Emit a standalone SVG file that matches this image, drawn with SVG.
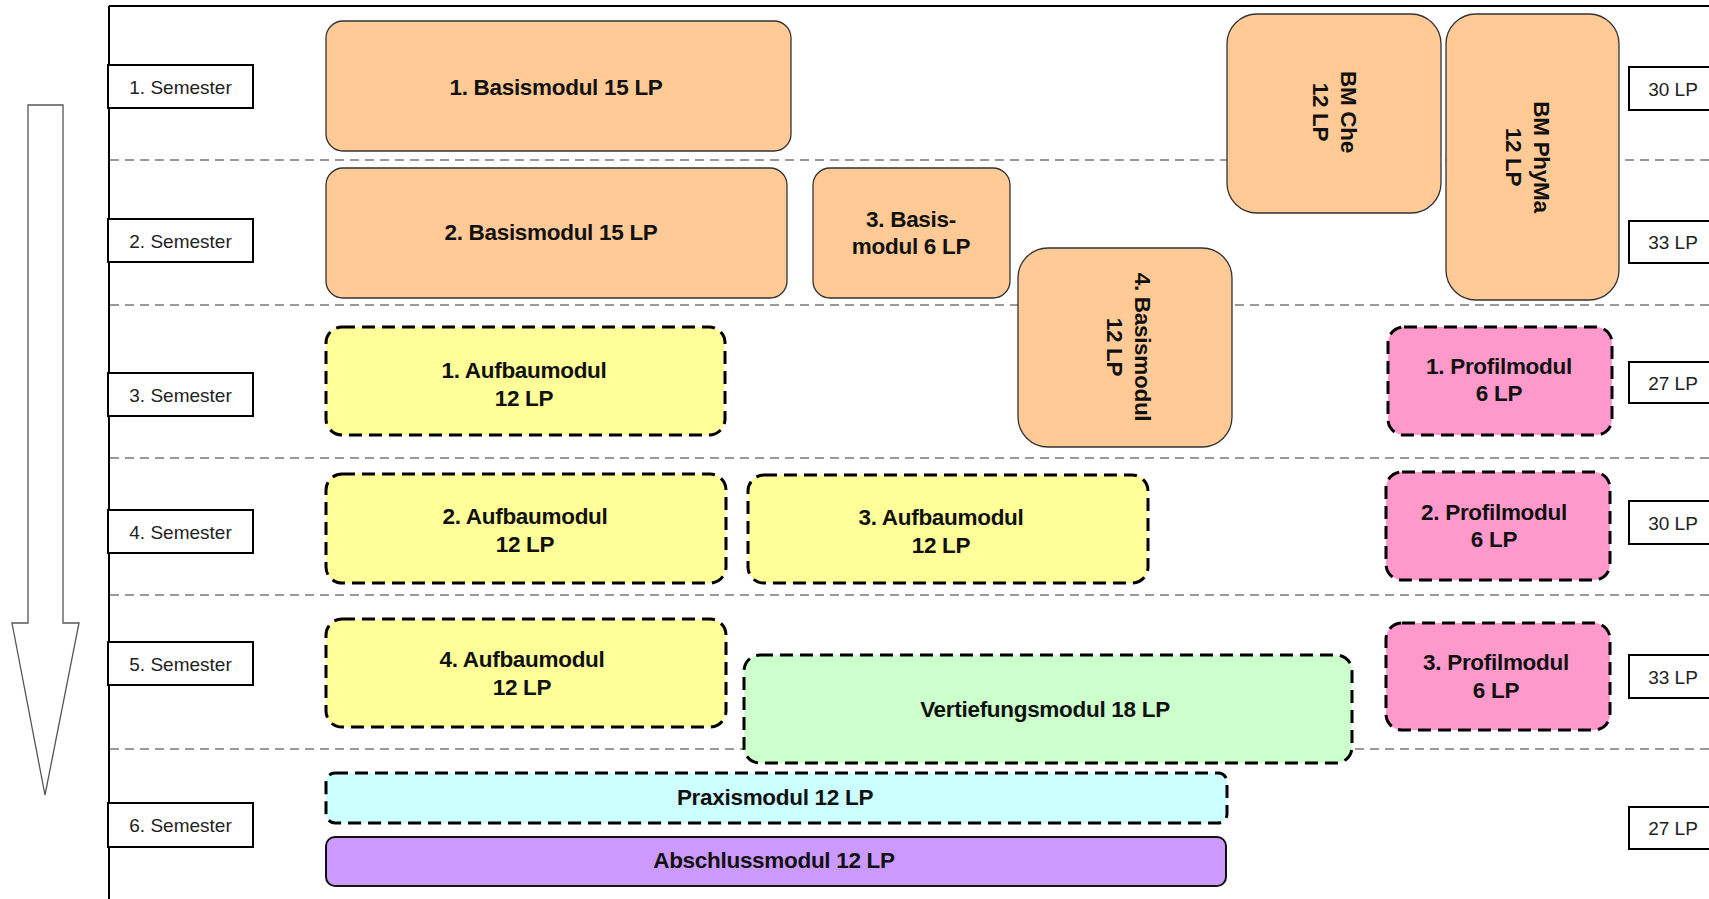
<svg xmlns="http://www.w3.org/2000/svg" width="1709" height="899" viewBox="0 0 1709 899">
<style>
.grid{stroke:#999;stroke-width:2;stroke-dasharray:9 6;fill:none}
.frame{stroke:#000;stroke-width:2;fill:none}
.lab{fill:#fff;stroke:#000;stroke-width:2}
.lt{font-family:"Liberation Sans",Arial,sans-serif;font-size:19px;fill:#222;text-anchor:middle;dominant-baseline:central}
.mt{font-family:"Liberation Sans",Arial,sans-serif;font-size:22.5px;font-weight:bold;fill:#111;text-anchor:middle;dominant-baseline:central;letter-spacing:-0.3px}
.solid{stroke:#333;stroke-width:1.3}
.dash{stroke:#000;stroke-width:3;stroke-dasharray:13 7}
.orange{fill:#FFCA96}
.yellow{fill:#FFFF99}
.pink{fill:#FF99CC}
.green{fill:#CCFFCC}
.cyan{fill:#CCFFFF}
.purple{fill:#CC99FF}
</style>
<rect width="1709" height="899" fill="#fff"/>
<g id="frame">
<line class="frame" x1="109" y1="6" x2="1709" y2="6"/>
<line class="frame" x1="109" y1="6" x2="109" y2="899"/>
</g>
<g id="grid-lines">
<line class="grid" x1="110" y1="160" x2="1709" y2="160"/>
<line class="grid" x1="110" y1="305" x2="1709" y2="305"/>
<line class="grid" x1="110" y1="458" x2="1709" y2="458"/>
<line class="grid" x1="110" y1="595" x2="1709" y2="595"/>
<line class="grid" x1="110" y1="749" x2="1709" y2="749"/>
</g>
<g id="time-arrow">
<path d="M28,105 H63 V623 H79 L45,795 L12,623 H28 Z" fill="#fff" stroke="#555" stroke-width="1.3"/>
</g>
<g id="semester-1"><rect class="lab" x="108" y="65" width="145" height="43"/><text class="lt" x="180.5" y="87">1. Semester</text></g>
<g id="semester-2"><rect class="lab" x="108" y="219" width="145" height="43"/><text class="lt" x="180.5" y="241">2. Semester</text></g>
<g id="semester-3"><rect class="lab" x="108" y="373" width="145" height="43"/><text class="lt" x="180.5" y="395">3. Semester</text></g>
<g id="semester-4"><rect class="lab" x="108" y="510" width="145" height="43"/><text class="lt" x="180.5" y="532">4. Semester</text></g>
<g id="semester-5"><rect class="lab" x="108" y="642" width="145" height="43"/><text class="lt" x="180.5" y="664">5. Semester</text></g>
<g id="semester-6"><rect class="lab" x="108" y="803" width="145" height="44"/><text class="lt" x="180.5" y="825">6. Semester</text></g>
<g id="lp-1"><rect class="lab" x="1629" y="67" width="100" height="43"/><text class="lt" x="1673" y="89">30 LP</text></g>
<g id="lp-2"><rect class="lab" x="1629" y="221" width="100" height="42"/><text class="lt" x="1673" y="242">33 LP</text></g>
<g id="lp-3"><rect class="lab" x="1629" y="362" width="100" height="41"/><text class="lt" x="1673" y="383">27 LP</text></g>
<g id="lp-4"><rect class="lab" x="1629" y="501" width="100" height="43"/><text class="lt" x="1673" y="523">30 LP</text></g>
<g id="lp-5"><rect class="lab" x="1629" y="655" width="100" height="43"/><text class="lt" x="1673" y="677">33 LP</text></g>
<g id="lp-6"><rect class="lab" x="1629" y="807" width="100" height="42"/><text class="lt" x="1673" y="828">27 LP</text></g>
<g id="basismodul-1"><rect class="orange solid" x="326" y="21" width="465" height="130" rx="17"/><text class="mt" x="556" y="87">1. Basismodul 15 LP</text></g>
<g id="basismodul-2"><rect class="orange solid" x="326" y="168" width="461" height="130" rx="17"/><text class="mt" x="551" y="232">2. Basismodul 15 LP</text></g>
<g id="basismodul-3"><rect class="orange solid" x="813" y="168" width="197" height="130" rx="17"/><text class="mt" x="911" y="219">3. Basis-</text><text class="mt" x="911" y="246">modul 6 LP</text></g>
<g id="bm-che"><rect class="orange solid" x="1227" y="14" width="214" height="199" rx="30"/><g transform="translate(1334,112) rotate(90)"><text class="mt" x="0" y="-14">BM Che</text><text class="mt" x="0" y="14">12 LP</text></g></g>
<g id="bm-phyma"><rect class="orange solid" x="1446" y="14" width="173" height="286" rx="30"/><g transform="translate(1527,157) rotate(90)"><text class="mt" x="0" y="-14">BM PhyMa</text><text class="mt" x="0" y="14">12 LP</text></g></g>
<g id="basismodul-4"><rect class="orange solid" x="1018" y="248" width="214" height="199" rx="30"/><g transform="translate(1128,347) rotate(90)"><text class="mt" x="0" y="-14">4. Basismodul</text><text class="mt" x="0" y="14">12 LP</text></g></g>
<g id="aufbaumodul-1"><rect class="yellow dash" x="326" y="327" width="399" height="108" rx="16"/><text class="mt" x="524" y="370">1. Aufbaumodul</text><text class="mt" x="524" y="398">12 LP</text></g>
<g id="aufbaumodul-2"><rect class="yellow dash" x="326" y="474" width="400" height="109" rx="16"/><text class="mt" x="525" y="516">2. Aufbaumodul</text><text class="mt" x="525" y="544">12 LP</text></g>
<g id="aufbaumodul-3"><rect class="yellow dash" x="748" y="475" width="400" height="108" rx="16"/><text class="mt" x="941" y="517">3. Aufbaumodul</text><text class="mt" x="941" y="545">12 LP</text></g>
<g id="aufbaumodul-4"><rect class="yellow dash" x="326" y="619" width="400" height="108" rx="16"/><text class="mt" x="522" y="659">4. Aufbaumodul</text><text class="mt" x="522" y="687">12 LP</text></g>
<g id="profilmodul-1"><rect class="pink dash" x="1388" y="327" width="224" height="108" rx="16"/><text class="mt" x="1499" y="366">1. Profilmodul</text><text class="mt" x="1499" y="393">6 LP</text></g>
<g id="profilmodul-2"><rect class="pink dash" x="1386" y="472" width="224" height="108" rx="16"/><text class="mt" x="1494" y="512">2. Profilmodul</text><text class="mt" x="1494" y="539">6 LP</text></g>
<g id="profilmodul-3"><rect class="pink dash" x="1386" y="623" width="224" height="107" rx="16"/><text class="mt" x="1496" y="662">3. Profilmodul</text><text class="mt" x="1496" y="690">6 LP</text></g>
<g id="vertiefungsmodul"><rect class="green dash" x="744" y="655" width="608" height="108" rx="16"/><text class="mt" x="1045" y="709">Vertiefungsmodul 18 LP</text></g>
<g id="praxismodul"><rect class="cyan dash" x="326" y="773" width="901" height="50" rx="9"/><text class="mt" x="775" y="797">Praxismodul 12 LP</text></g>
<g id="abschlussmodul"><rect fill="#CC99FF" stroke="#111" stroke-width="2" x="326" y="837" width="900" height="49" rx="9"/><text class="mt" x="774" y="860">Abschlussmodul 12 LP</text></g>
</svg>
